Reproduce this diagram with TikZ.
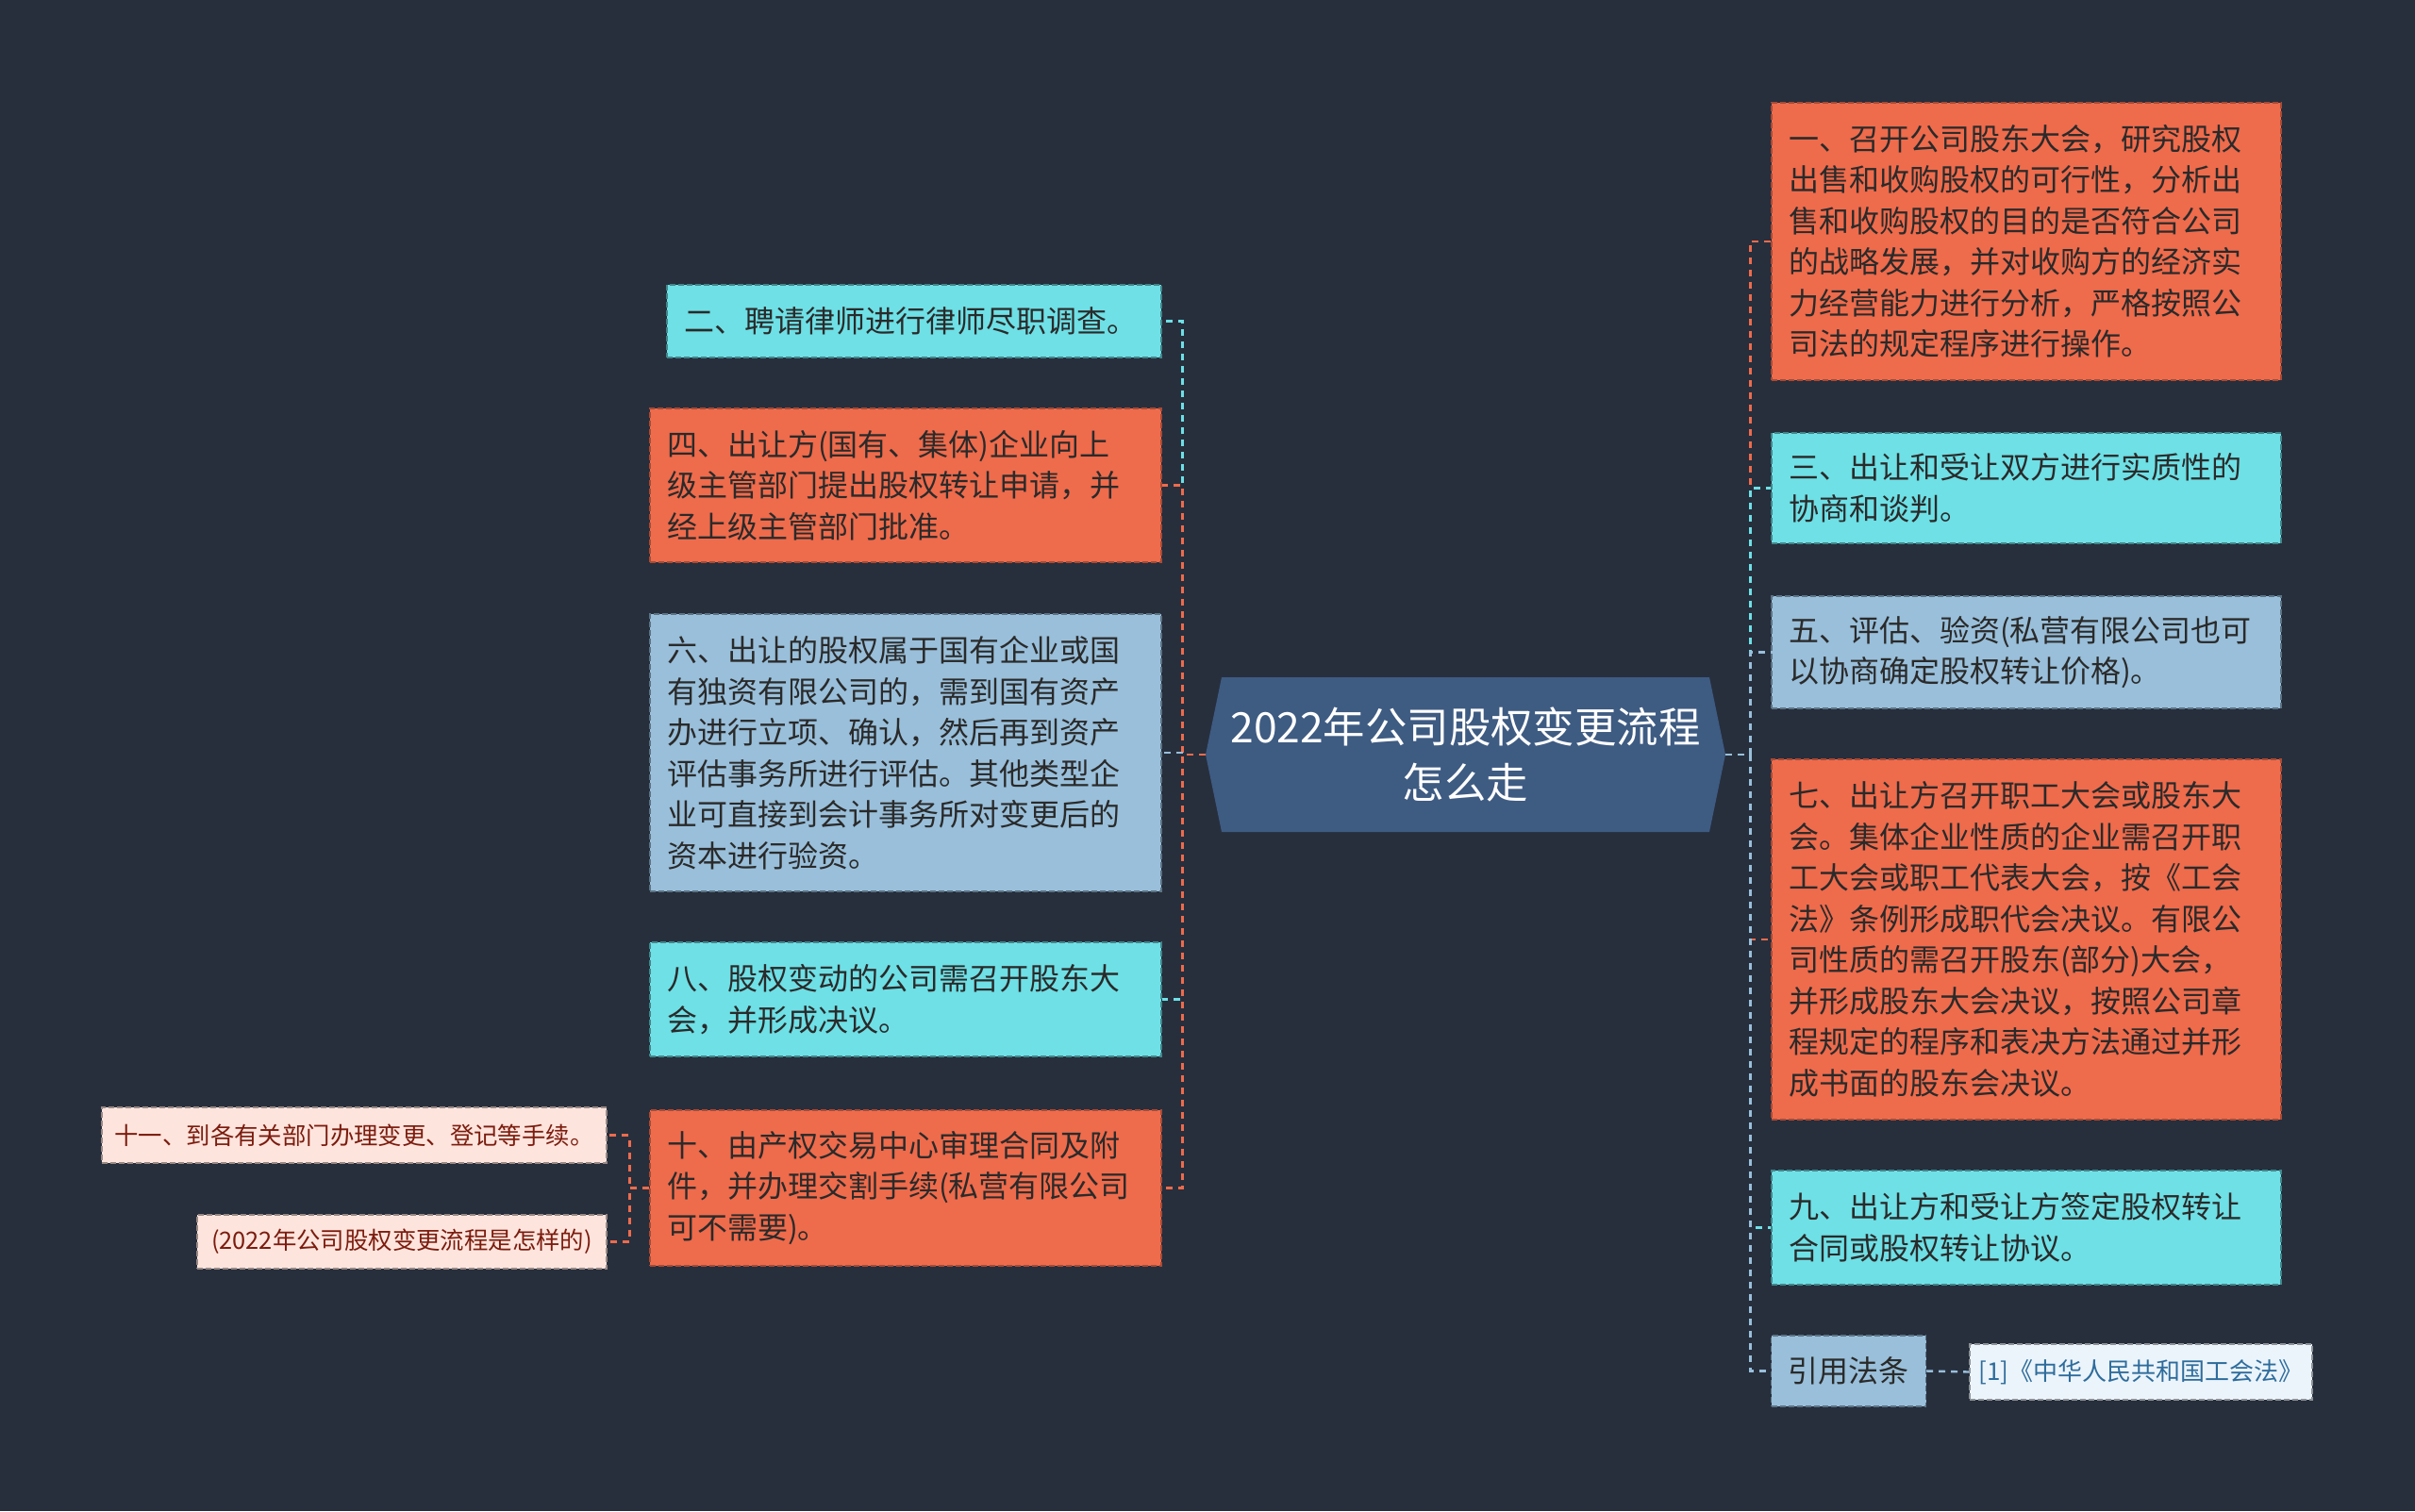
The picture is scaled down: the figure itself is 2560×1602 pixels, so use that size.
\documentclass[tikz,border=0pt]{standalone}
\usepackage{fontspec}
\newfontfamily\cjk{Noto Sans CJK SC}
\setlength{\parindent}{0pt}
\definecolor{bgc}{HTML}{272F3D}
\definecolor{salm}{HTML}{EE6B4C}
\definecolor{cyanc}{HTML}{6EE0E6}
\definecolor{lblue}{HTML}{99BFDA}
\definecolor{pinkc}{HTML}{FDE4DD}
\definecolor{lawbg}{HTML}{EBF4FA}
\definecolor{rootc}{HTML}{3E5B82}
\definecolor{txtd}{HTML}{2A2A2A}
\definecolor{pinktxt}{HTML}{7B1C0E}
\definecolor{lawtxt}{HTML}{2E6C9C}
\tikzset{
  boxbase/.style={rectangle, line width=0.6pt, dash pattern=on 3pt off 1.5pt,
    align=left, inner xsep=9pt, inner ysep=0pt, text=txtd,
    font=\cjk\fontsize{16pt}{21.75pt}\selectfont},
  lbox/.style={boxbase, text width=253pt},
  rbox/.style={boxbase, text width=252pt},
  salmbox/.style={fill=salm, draw=salm!70!black},
  cyanbox/.style={fill=cyanc, draw=cyanc!60!black},
  bluebox/.style={fill=lblue, draw=lblue!60!black},
  pinkbox/.style={rectangle, fill=pinkc, draw=pinkc!60!black, line width=0.6pt,
    dash pattern=on 3pt off 1.5pt, inner xsep=0pt, inner ysep=0pt, text=pinktxt,
    font=\cjk\fontsize{12.7pt}{16pt}\selectfont},
  lawbox/.style={rectangle, fill=lawbg, draw=lawbg!60!black, line width=0.6pt,
    dash pattern=on 3pt off 1.5pt, inner xsep=0pt, inner ysep=0pt, text=lawtxt,
    font=\cjk\fontsize{13pt}{16pt}\selectfont},
  conn/.style={line width=1.2pt, dash pattern=on 3.5pt off 3pt},
}
\begin{document}
\begin{tikzpicture}[x=0.5pt,y=-0.5pt]
\fill[bgc] (0,0) rectangle (2560,1602);
\useasboundingbox (0,0) rectangle (2560,1602);
% root shape
\fill[rootc] (1278,800) -- (1295,718) -- (1812,718) -- (1829,800) -- (1812,882) -- (1295,882) -- cycle;
\node[minimum width=275.5pt, minimum height=82pt, inner sep=0pt, align=center, text=white,
  font=\cjk\fontsize{22.2pt}{29.5pt}\selectfont] (root) at (1553.5,800)
  {2022年公司股权变更流程\\怎么走};
% left nodes
\node[lbox, cyanbox, text width=244pt, minimum height=38.5pt] (n2) at (969,340.5)
  {二、聘请律师进行律师尽职调查。};
\node[lbox, salmbox, minimum height=81.5pt] (n4) at (960,514.5)
  {四、出让方(国有、集体)企业向上\\级主管部门提出股权转让申请，并\\经上级主管部门批准。};
\node[lbox, bluebox, minimum height=147pt] (n6) at (960,798)
  {六、出让的股权属于国有企业或国\\有独资有限公司的，需到国有资产\\办进行立项、确认，然后再到资产\\评估事务所进行评估。其他类型企\\业可直接到会计事务所对变更后的\\资本进行验资。};
\node[lbox, cyanbox, minimum height=60.5pt] (n8) at (960,1059.5)
  {八、股权变动的公司需召开股东大\\会，并形成决议。};
\node[lbox, salmbox, minimum height=82.5pt] (n10) at (960,1259.5)
  {十、由产权交易中心审理合同及附\\件，并办理交割手续(私营有限公司\\可不需要)。};
\node[pinkbox, minimum width=267.5pt, minimum height=29.5pt] (n11) at (375.5,1203.5)
  {十一、到各有关部门办理变更、登记等手续。};
\node[pinkbox, minimum width=217pt, minimum height=28.5pt] (n12) at (426,1316.5)
  {(2022年公司股权变更流程是怎样的)};
% right nodes
\node[rbox, salmbox, minimum height=147pt] (n1) at (2148,256)
  {一、召开公司股东大会，研究股权\\出售和收购股权的可行性，分析出\\售和收购股权的目的是否符合公司\\的战略发展，并对收购方的经济实\\力经营能力进行分析，严格按照公\\司法的规定程序进行操作。};
\node[rbox, cyanbox, minimum height=58.5pt] (n3) at (2148,517.5)
  {三、出让和受让双方进行实质性的\\协商和谈判。};
\node[rbox, bluebox, minimum height=59.5pt] (n5) at (2148,691.5)
  {五、评估、验资(私营有限公司也可\\以协商确定股权转让价格)。};
\node[rbox, salmbox, minimum height=191pt] (n7) at (2148,996)
  {七、出让方召开职工大会或股东大\\会。集体企业性质的企业需召开职\\工大会或职工代表大会，按《工会\\法》条例形成职代会决议。有限公\\司性质的需召开股东(部分)大会，\\并形成股东大会决议，按照公司章\\程规定的程序和表决方法通过并形\\成书面的股东会决议。};
\node[rbox, cyanbox, minimum height=60.5pt] (n9) at (2148,1301.5)
  {九、出让方和受让方签定股权转让\\合同或股权转让协议。};
\node[boxbase, bluebox, minimum width=81.5pt, minimum height=37.5pt, align=center] (ref) at (1959.5,1453.5)
  {引用法条};
\node[lawbox, minimum width=181.5pt, minimum height=29.5pt] (law) at (2269.5,1454.5)
  {[1]《中华人民共和国工会法》};
% connectors left
\draw[conn, cyanc] (root.west) -- ++(-24,0) |- (n2.east);
\draw[conn, salm] (root.west) -- ++(-24,0) |- (n4.east);
\draw[conn, lblue] (root.west) -- ++(-24,0) |- (n6.east);
\draw[conn, cyanc] (root.west) -- ++(-24,0) |- (n8.east);
\draw[conn, salm] (root.west) -- ++(-24,0) |- (n10.east);
\draw[conn, salm] (n10.west) -- ++(-21,0) |- (n11.east);
\draw[conn, salm] (n10.west) -- ++(-21,0) |- (n12.east);
% connectors right
\draw[conn, salm] (root.east) -- ++(26,0) |- (n1.west);
\draw[conn, cyanc] (root.east) -- ++(26,0) |- (n3.west);
\draw[conn, lblue] (root.east) -- ++(26,0) |- (n5.west);
\draw[conn, salm] (root.east) -- ++(26,0) |- (n7.west);
\draw[conn, cyanc] (root.east) -- ++(26,0) |- (n9.west);
\draw[conn, lblue] (root.east) -- ++(26,0) |- (ref.west);
\draw[conn, lblue] (ref.east) -- (law.west);
\end{tikzpicture}
\end{document}
